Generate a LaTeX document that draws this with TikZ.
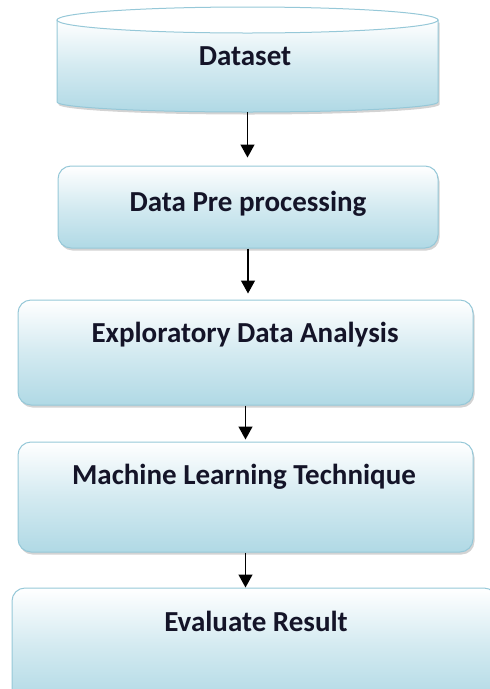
\documentclass[tikz,border=0pt]{standalone}
\usepackage{fontspec}
\setmainfont{Carlito}
\usetikzlibrary{shadows,arrows.meta}
\definecolor{boxblue}{RGB}{176,217,229}
\definecolor{edgeblue}{RGB}{150,200,216}
\definecolor{txt}{RGB}{20,20,40}
\tikzset{
  shade box/.style={draw=edgeblue, line width=1pt, top color=white, bottom color=boxblue,
    middle color=boxblue!55, drop shadow={shadow xshift=1.5pt, shadow yshift=-2.5pt, opacity=0.35, fill=gray}},
  flowbox/.style={shade box, rounded corners=13pt, inner sep=0pt},
  lbl/.style={anchor=base, font=\bfseries\fontsize{29}{32}\selectfont, text=txt},
  arr/.style={-{Triangle[width=14pt,length=13pt]}, line width=1.4pt, black},
}
\begin{document}
\begin{tikzpicture}[x=1pt,y=-1pt]
\useasboundingbox (0,0) rectangle (490,689);
% cylinder
\path[shade box] (57,20) -- (57,102) arc[start angle=180,end angle=0,x radius=190.5,y radius=10] -- (438,20) -- cycle;
\path[draw=edgeblue, line width=1pt, fill=white] (247.5,20) ellipse[x radius=190.5, y radius=13];
\node[minimum width=381pt, minimum height=105pt, inner sep=0pt] (ds) at (247.5,59.5) {};
\node[lbl] (t1) at (245,65) {Dataset};
% boxes
\node[flowbox, minimum width=380pt, minimum height=82pt] (b2) at (248,207) {};
\node[lbl] (t2) at (248,211) {Data Pre processing};
\node[flowbox, minimum width=455pt, minimum height=105pt] (b3) at (245.5,352.5) {};
\node[lbl] (t3) at (245,342.5) {Exploratory Data Analysis};
\node[flowbox, minimum width=455pt, minimum height=110pt] (b4) at (245.5,497) {};
\node[lbl] (t4) at (244,484) {Machine Learning Technique};
\node[flowbox, minimum width=485pt, minimum height=115pt] (b5) at (254.5,645.5) {};
\node[lbl] (t5) at (256,631) {Evaluate Result};
% arrows
\draw[arr, shorten >=8pt] (ds.south) -- (ds.south |- b2.north);
\draw[arr, shorten >=6pt] (b2.south) -- (b2.south |- b3.north);
\draw[arr, shorten >=2pt] (b4.south |- b3.south) -- (b4.south |- b4.north);
\draw[arr] (b4.south) -- (b4.south |- b5.north);
\end{tikzpicture}
\end{document}
